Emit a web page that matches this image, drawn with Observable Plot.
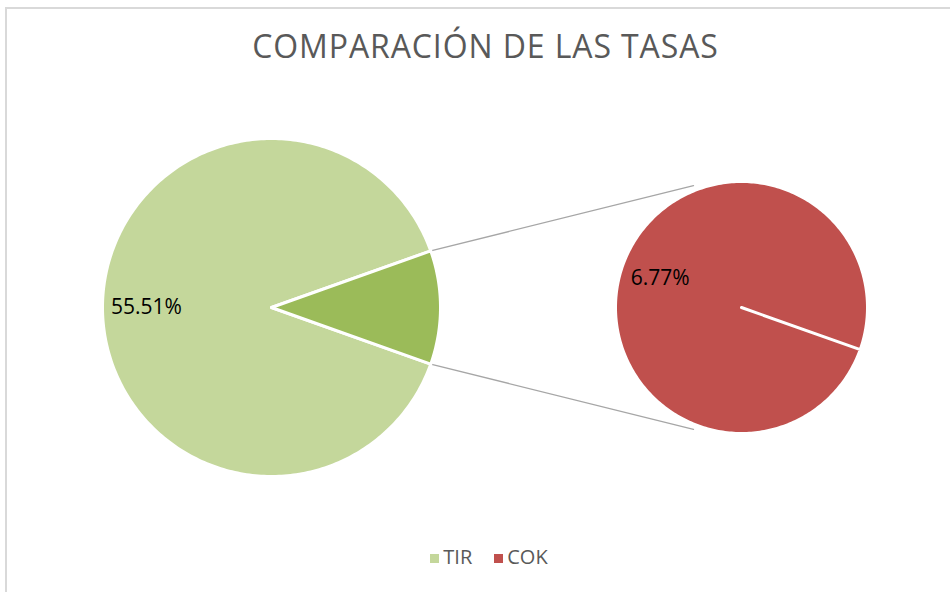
<!DOCTYPE html>
<html>
<head>
<meta charset="utf-8">
<script src="https://cdn.jsdelivr.net/npm/d3@7"></script>
<script src="https://cdn.jsdelivr.net/npm/@observablehq/plot@0.6"></script>
<style>
  html, body { margin: 0; padding: 0; background: #fff; }
  #wrap { position: relative; width: 950px; height: 592px; overflow: hidden; font-family: "Open Sans", sans-serif; }
  #frame { position: absolute; left: 5px; top: 7px; width: 960px; height: 600px; border-top: 2px solid #d9d9d9; border-left: 2px solid #d9d9d9; box-sizing: border-box; }
  #title { position: absolute; left: 0; width: 971px; top: 24px; text-align: center; font-size: 32px; letter-spacing: 0.9px; color: #595959; white-space: nowrap; }
  #legend { position: absolute; left: 0; width: 978px; top: 543px; text-align: center; font-size: 20px; color: #595959; white-space: nowrap; }
  #legend span.sw { display: inline-block; width: 9px; height: 9px; margin-right: 4px; vertical-align: 1px; }
  #legend span.it { margin: 0 11px; }
  #chart { position: absolute; left: 0; top: 0; }
</style>
</head>
<body>
<div id="wrap">
  <div id="frame"></div>
  <div id="chart"></div>
  <div id="title"></div>
  <div id="legend"></div>
</div>
<script>
// ---- data ----
const titleText = "COMPARACIÓN DE LAS TASAS";
const categories = ["TIR", "COK"];
const values = [55.51, 6.77];
const valueLabels = ["55.51%", "6.77%"];
const colors = ["#c4d79b", "#c0504d"];
const otherColor = "#9bbb59";

// ---- layout ----
const W = 950, H = 592;
const main = {cx: 271, cy: 307, r: 169, labelR: 0.74};
const sec = {cx: 741, cy: 307, r: 126, labelR: 0.685};
const connectorAngle = 111.5; // degrees on secondary pie
const rad = d => d * Math.PI / 180;
const pt = (c, r, a) => [c.cx + r * Math.cos(rad(a)), c.cy - r * Math.sin(rad(a))];

const total = d3.sum(values);
const otherSpan = 360 * values[1] / total;          // angle of the split-off slice
const half = otherSpan / 2;

function slice(c, a0, a1, key) {
  const pts = [{key, x: c.cx, y: c.cy}];
  const n = Math.max(2, Math.ceil(Math.abs(a1 - a0)));
  for (let i = 0; i <= n; i++) {
    const [x, y] = pt(c, c.r, a0 + (a1 - a0) * i / n);
    pts.push({key, x, y});
  }
  pts.push({key, x: c.cx, y: c.cy});
  return pts;
}

const polys = [
  ...slice(main, half, 360 - half, "TIR"),
  ...slice(main, -half, half, "otro"),
  ...slice(sec, -half, 360 - half, "COK")
];

const connectors = [
  {id: "top", x: pt(main, main.r, half)[0], y: pt(main, main.r, half)[1]},
  {id: "top", x: pt(sec, sec.r + 5, connectorAngle)[0], y: pt(sec, sec.r + 5, connectorAngle)[1]},
  {id: "bot", x: pt(main, main.r, -half)[0], y: pt(main, main.r, -half)[1]},
  {id: "bot", x: pt(sec, sec.r + 5, -connectorAngle)[0], y: pt(sec, sec.r + 5, -connectorAngle)[1]}
];

const tirMid = 180;
const cokMid = -half + 180;
const labels = [
  {text: valueLabels[0], x: pt(main, main.r * main.labelR, tirMid)[0], y: pt(main, main.r * main.labelR, tirMid)[1]},
  {text: valueLabels[1], x: pt(sec, sec.r * sec.labelR, cokMid)[0], y: pt(sec, sec.r * sec.labelR, cokMid)[1]}
];

const chart = Plot.plot({
  width: W, height: H, margin: 0,
  x: {domain: [0, W], range: [0, W], axis: null},
  y: {domain: [0, H], range: [0, H], axis: null},
  color: {domain: ["TIR", "otro", "COK"], range: [colors[0], otherColor, colors[1]]},
  style: {background: "transparent", overflow: "visible"},
  marks: [
    Plot.line(connectors, {x: "x", y: "y", z: "id", stroke: "#a6a6a6", strokeWidth: 1.3}),
    Plot.line(polys, {x: "x", y: "y", z: "key", fill: "key", stroke: "white", strokeWidth: 3, strokeLinejoin: "round", curve: "linear"}),
    Plot.text(labels, {x: "x", y: "y", text: "text", fill: "black", fontSize: 21, fontFamily: "Open Sans", textAnchor: "middle"})
  ]
});
document.getElementById("chart").appendChild(chart);

document.getElementById("title").textContent = titleText;
const legend = document.getElementById("legend");
categories.forEach((c, i) => {
  const it = document.createElement("span");
  it.className = "it";
  const sw = document.createElement("span");
  sw.className = "sw";
  sw.style.background = colors[i];
  it.appendChild(sw);
  it.appendChild(document.createTextNode(c));
  legend.appendChild(it);
});
</script>
</body>
</html>
